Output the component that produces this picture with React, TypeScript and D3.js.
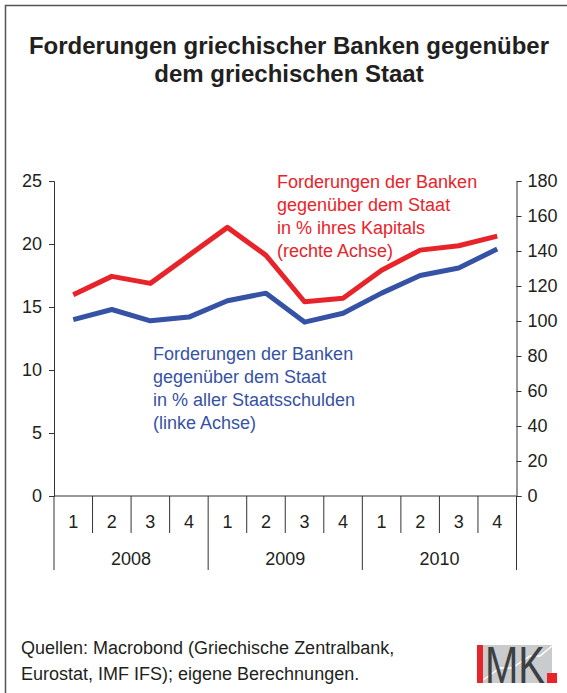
import React, { useEffect, useRef } from 'react';
import * as d3 from 'd3';

const quarters = ['1', '2', '3', '4', '1', '2', '3', '4', '1', '2', '3', '4'];
const years = ['2008', '2009', '2010'];
const shareOfDebt = [14.0, 14.8, 13.9, 14.2, 15.5, 16.1, 13.8, 14.5, 16.1, 17.5, 18.1, 19.6];
const shareOfCapital = [115, 125.5, 121.5, 137.5, 153.5, 137.5, 111, 113, 129, 140.5, 143, 148.5];
const leftTicks = [0, 5, 10, 15, 20, 25];
const rightTicks = [0, 20, 40, 60, 80, 100, 120, 140, 160, 180];
const redLabel = ['Forderungen der Banken', 'gegenüber dem Staat', 'in % ihres Kapitals', '(rechte Achse)'];
const blueLabel = ['Forderungen der Banken', 'gegenüber dem Staat', 'in % aller Staatsschulden', '(linke Achse)'];

const RED = '#e8242b';
const BLUE = '#3652a4';
const INK = '#231f20';
const FONT = 'Liberation Sans, Arial, sans-serif';

function App() {
    const ref = useRef(null);

    useEffect(() => {
        const svg = d3.select(ref.current);
        svg.selectAll('*').remove();

        const left = 54, right = 516.5, top = 181, bottom = 496;

        const x = d3.scaleBand().domain(d3.range(quarters.length)).range([left, right]);
        const yL = d3.scaleLinear().domain([0, 25]).range([bottom, top]);
        const yR = d3.scaleLinear().domain([0, 180]).range([bottom, top]);

        // frame
        svg.append('path')
            .attr('d', 'M5.5,693 V5.5 H567')
            .attr('fill', 'none')
            .attr('stroke', '#555')
            .attr('stroke-width', 1.5);

        // title
        const title = svg.append('text')
            .attr('text-anchor', 'middle')
            .attr('font-family', FONT)
            .attr('font-weight', 'bold')
            .attr('font-size', 24)
            .attr('fill', INK);
        title.append('tspan').attr('x', 289).attr('y', 54).text('Forderungen griechischer Banken gegenüber');
        title.append('tspan').attr('x', 289).attr('y', 82).text('dem griechischen Staat');

        // left axis
        const axL = svg.append('g').attr('transform', `translate(${left},0)`)
            .call(d3.axisLeft(yL).tickValues(leftTicks).tickSize(5).tickPadding(7));
        // right axis
        const axR = svg.append('g').attr('transform', `translate(${right},0)`)
            .call(d3.axisRight(yR).tickValues(rightTicks).tickSize(5).tickPadding(6));
        [axL, axR].forEach((ax) => {
            ax.select('.domain').attr('stroke', '#333').attr('stroke-width', 1);
            ax.selectAll('.tick line').attr('stroke', '#333');
            ax.selectAll('.tick text')
                .attr('font-family', FONT)
                .attr('font-size', 18)
                .attr('fill', INK);
        });

        // x baseline
        svg.append('line')
            .attr('x1', left).attr('x2', right)
            .attr('y1', bottom).attr('y2', bottom)
            .attr('stroke', '#333');

        // category dividers
        const edges = d3.range(quarters.length + 1).map((i) => left + i * x.bandwidth());
        edges.forEach((ex, i) => {
            const isYear = i % 4 === 0;
            svg.append('line')
                .attr('x1', ex).attr('x2', ex)
                .attr('y1', bottom).attr('y2', isYear ? 570 : 533)
                .attr('stroke', '#333');
        });

        quarters.forEach((q, i) => {
            svg.append('text')
                .attr('x', x(i) + x.bandwidth() / 2)
                .attr('y', 528)
                .attr('text-anchor', 'middle')
                .attr('font-family', FONT)
                .attr('font-size', 18)
                .attr('fill', INK)
                .text(q);
        });
        years.forEach((yr, i) => {
            svg.append('text')
                .attr('x', (x(i * 4) + x(i * 4 + 3) + x.bandwidth()) / 2)
                .attr('y', 565)
                .attr('text-anchor', 'middle')
                .attr('font-family', FONT)
                .attr('font-size', 18)
                .attr('fill', INK)
                .text(yr);
        });

        // lines
        const cx = (i) => x(i) + x.bandwidth() / 2;
        const lineL = d3.line().x((d, i) => cx(i)).y((d) => yL(d));
        const lineR = d3.line().x((d, i) => cx(i)).y((d) => yR(d));

        svg.append('path')
            .datum(shareOfDebt)
            .attr('d', lineL)
            .attr('fill', 'none')
            .attr('stroke', BLUE)
            .attr('stroke-width', 5)
            .attr('stroke-linejoin', 'round');

        svg.append('path')
            .datum(shareOfCapital)
            .attr('d', lineR)
            .attr('fill', 'none')
            .attr('stroke', RED)
            .attr('stroke-width', 5)
            .attr('stroke-linejoin', 'round');

        // annotations
        const rl = svg.append('text')
            .attr('font-family', FONT).attr('font-size', 18).attr('fill', RED);
        redLabel.forEach((t, i) => {
            rl.append('tspan').attr('x', 277).attr('y', 187.5 + i * 23.3).text(t);
        });
        const bl = svg.append('text')
            .attr('font-family', FONT).attr('font-size', 18).attr('fill', BLUE);
        blueLabel.forEach((t, i) => {
            bl.append('tspan').attr('x', 153).attr('y', 359.5 + i * 23.3).text(t);
        });

        // source
        const src = svg.append('text')
            .attr('font-family', FONT).attr('font-size', 18).attr('fill', INK);
        src.append('tspan').attr('x', 21).attr('y', 653.5).text('Quellen: Macrobond (Griechische Zentralbank,');
        src.append('tspan').attr('x', 21).attr('y', 679.5).text('Eurostat, IMF IFS); eigene Berechnungen.');

        // IMK logo
        const logo = svg.append('g');
        logo.append('rect').attr('x', 477).attr('y', 645).attr('width', 75).attr('height', 38).attr('fill', '#c9cbcd');
        logo.append('polyline')
            .attr('points', '483,680 500,668 512,668 530,656 540,656 552,646')
            .attr('fill', 'none').attr('stroke', '#fff').attr('stroke-width', 1.5);
        logo.append('rect').attr('x', 477).attr('y', 645).attr('width', 6).attr('height', 38).attr('fill', RED);
        logo.append('text')
            .attr('x', 485).attr('y', 683)
            .attr('font-family', FONT).attr('font-size', 52)
            .attr('textLength', 60).attr('lengthAdjust', 'spacingAndGlyphs')
            .attr('fill', '#3d3f42')
            .text('MK');
        logo.append('rect').attr('x', 547).attr('y', 673).attr('width', 10).attr('height', 10).attr('fill', RED);
    }, []);

    return (
        <svg ref={ref} width={567} height={693}
            style={{ position: 'absolute', left: 0, top: 0, background: '#fff' }} />
    );
}

export default App;
